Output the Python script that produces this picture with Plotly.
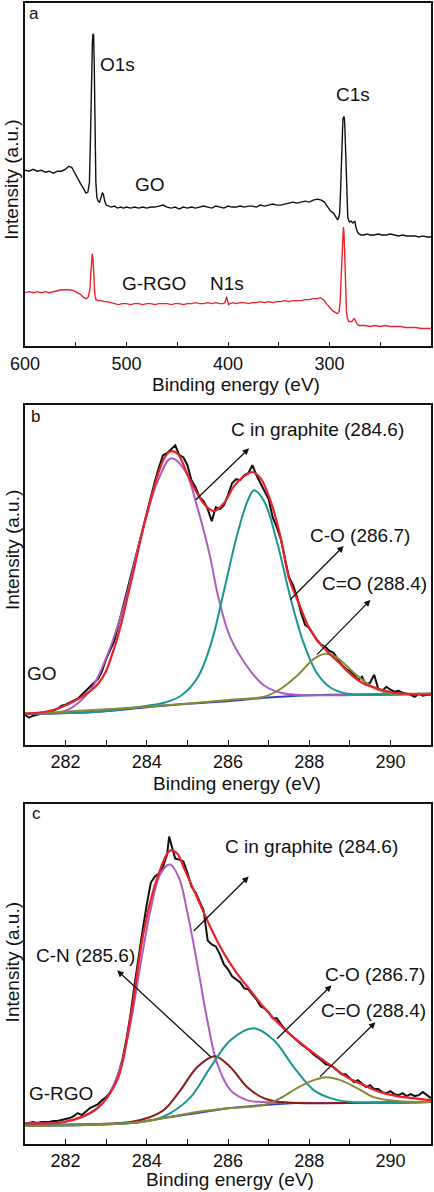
import plotly.graph_objects as go

FONT = "Liberation Sans, Arial, sans-serif"

# ---------------- Panel a : survey spectra ----------------
a_go_ev = [600,596,592,588,584,580,576,572,568,564,560,557,554,551,548,545,542,540,538,536.5,535.5,534.5,533.6,533,532.4,531.8,531,530.2,529.2,528,526.5,525,523.8,522.8,521.5,520,518,515,512,509,506,503,500,496,492,488,484,480,476,472,468,464,460,456,452,448,444,440,436,432,428,424,420,416,412,408,404,400,396,392,388,384,380,376,372,368,364,360,356,352,348,344,340,336,332,328,324,320,316,312,308,305,302,299,296,293.5,292,291,290,289.3,288.6,288,287.4,286.8,286.2,285.6,285,284.4,283.7,283,282,281,280,279,278,277,276,275,274,272.5,271,269,266,263,260,256,252,248,244,240,236,232,228,224,220,216,212,208,204,200]
a_go_int = [177,176,178,176,177,175,176,174,176,176,178,181,180,174,168,163,158,154,155,165,210,270,305,314,313,285,220,165,150,146,145,150,154,153,146,142,141,140,141,139,140,139,140,139,140,139,140,139,140,140,141,142,140,139,140,138,140,139,140,139,140,141,140,139,141,140,139,141,140,140,141,140,141,141,140,142,141,142,143,142,142,143,144,145,144,145,146,145,147,148,147,145,141,136,134,130,127,129,134,150,180,200,218,228,230,231,225,208,180,150,130,126,125,126,125,124,125,126,120,115,113,112,112,113,112,112,113,112,112,113,112,111,112,111,111,111,110,111,110,110]

a_rgo_ev = [600,596,592,588,584,580,576,572,568,564,560,556,552,548,545,542,539.5,537.5,536,535,534.3,533.7,533,532.2,531.2,530,528,525,522,519,516,512,508,504,500,496,492,488,484,480,476,472,468,464,460,456,452,448,444,440,436,432,428,424,420,416,412,408,405,403,402,401.3,400.5,399.5,398,395,392,388,384,380,376,372,368,364,360,356,352,348,344,340,336,332,328,324,320,316,312,309,306,303,300,297,294,292,290.5,289.5,288.5,287.6,286.9,286.3,285.7,285,284.2,283.3,282.3,281,279.5,278,276.5,275.5,274,272.5,271,268,265,260,255,250,245,240,235,230,225,220,215,210,205,200]
a_rgo_int = [54,55,54,55,54,55,54,55,56,57,57,57,56,54,52,49,48,50,58,75,88,93,88,70,52,47,46,46,45,45,44,43,42,43,43,42,43,43,42,43,43,42,43,43,43,42,43,43,42,43,43,44,43,43,44,43,44,43,43,44,47,50,46,42,43,44,43,44,44,43,44,44,45,44,45,44,45,45,46,45,46,46,46,47,47,48,48,49,47,43,39,36,34,33,35,45,70,100,117,120,115,90,55,35,28,25,25,25,27,28,25,22,21,21,21,20,21,20,21,20,20,20,19,19,19,18,18,18]

a_ticks = [600, 500, 400, 300]
a_minor = [550, 450, 350, 250]

# ---------------- Panel b : GO C1s ----------------
b_ev = [round(281 + 0.1 * i, 1) for i in range(101)]
b_data = [30,27,29,30,31,32,31,34,36,39,40,42,44,46,50,54,58,62,66,74,86,95,104,120,136,152,168,184,200,216,232,250,264,278,290,292,296,300,290,288,280,265,258,248,244,236,224,238,236,240,250,262,266,265,270,272,280,270,262,254,246,228,218,206,186,168,160,148,132,120,117,110,104,100,98,94,92,86,80,76,74,70,65,68,60,62,70,56,54,58,55,53,54,52,51,50,48,51,49,50,50]

b_env_ev = [281,281.8,282.8,283.2,283.6,284.0,284.43,284.6,284.77,285.0,285.25,285.46,285.66,285.9,286.15,286.4,286.6,286.8,287.05,287.3,287.5,287.75,288.0,288.25,288.5,288.74,288.98,289.3,289.7,290.1,291]
b_env = [31,36,61,97,161,231,287,294,291,271,251,239,234,242,259,269,273,267,244,207,167,141,117,102,91,82,72,62,56,52,50]

b_bg_ev = [281,282.8,284.4,286.1,286.9,287.7,288.5,291]
b_bg = [31,33,39,44,47,49,50,51]

b_gr_ev = [281,282,282.6,283.0,283.45,283.85,284.25,284.6,284.95,285.25,285.55,285.75,286.05,286.55,286.9,287.3,287.7,291]
b_gr = [31,34,54,87,141,207,262,287,274,237,190,150,108,74,59,52,50,51]

b_co_ev = [281,282.8,284.02,284.43,284.84,285.25,285.58,285.9,286.23,286.48,286.64,286.89,287.22,287.54,287.87,288.2,288.53,288.94,289.35,291]
b_co = [31,33,39,42,49,67,101,154,211,244,255,244,201,147,101,71,57,51,50,51]

b_cdo_ev = [281,283.61,285.25,286.07,286.89,287.3,287.7,288.12,288.4,288.69,289.1,289.51,289.92,290.57,291]
b_cdo = [31,37,42,45,48,56,69,86,91,87,72,59,52,51,51]

# ---------------- Panel c : G-RGO C1s ----------------
c_ev = [281.0,281.1,281.2,281.3,281.4,281.5,281.6,281.7,281.8,281.9,282.0,282.1,282.2,282.3,282.4,282.5,282.6,282.7,282.8,282.9,283.0,283.1,283.2,283.3,283.4,283.5,283.6,283.7,283.8,283.9,284.0,284.1,284.2,284.3,284.4,284.5,284.55,284.6,284.7,284.8,284.9,285.0,285.1,285.2,285.3,285.4,285.5,285.6,285.7,285.8,285.9,286.0,286.1,286.2,286.3,286.4,286.5,286.6,286.7,286.8,286.9,287.0,287.1,287.2,287.3,287.4,287.5,287.6,287.7,287.8,287.9,288.0,288.1,288.2,288.3,288.4,288.5,288.6,288.7,288.8,288.9,289.0,289.1,289.2,289.3,289.4,289.5,289.6,289.7,289.8,289.9,290.0,290.1,290.2,290.3,290.4,290.5,290.6,290.7,290.8,290.9,291.0]
c_data = [21,21,22,21,22,22,22,23,23,24,25,26,28,31,29,33,36,38,40,44,47,52,60,70,85,105,130,160,190,215,240,262,268,271,278,290,308,300,286,285,283,272,258,252,243,234,204,200,198,190,180,175,168,165,162,156,155,150,145,138,136,132,126,126,120,115,111,107,103,100,97,94,90,87,84,80,79,77,73,70,70,66,62,64,60,57,59,55,55,52,51,53,50,49,51,48,50,48,49,52,49,46]

c_env_ev = [281,281.96,282.78,283.27,283.6,283.93,284.26,284.58,284.75,284.91,285.24,285.57,285.9,286.22,286.55,286.88,287.29,287.7,288.11,288.52,288.93,289.34,289.75,290.16,291]
c_env = [21,22,36,64,127,214,267,294,291,277,247,217,191,171,154,137,119,104,91,79,67,59,52,48,44]

c_bg_ev = [281,283.6,284.42,285.24,286.06,286.88,287.7,288.52,291]
c_bg = [18,21,26,31,36,39,41,41,42]

c_gr_ev = [281,281.96,282.62,283.03,283.35,283.6,283.85,284.09,284.34,284.57,284.79,284.99,285.24,285.49,285.73,286.06,286.47,286.88,291]
c_gr = [21,22,31,47,77,121,181,234,271,280,267,234,181,124,81,54,44,42,42]

c_cn_ev = [281,282.78,283.6,284.01,284.42,284.83,285.24,285.67,286.06,286.47,286.88,287.29,287.7,291]
c_cn = [19,20,22,26,34,54,77,88,77,57,46,42,41,42]

c_co_ev = [281,283.6,284.17,284.58,285.08,285.57,286.06,286.63,287.13,287.62,288.11,288.52,289.01,291]
c_co = [19,21,24,31,47,77,104,116,104,77,54,46,42,42]

c_cdo_ev = [281,283.6,284.42,285.24,286.06,286.88,287.29,287.7,288.11,288.42,288.77,289.18,289.59,290.16,291]
c_cdo = [18,21,26,32,36,39,46,56,64,67,64,56,47,43,42]

# ---------------- colours ----------------
BLACK = "#111111"
RED = "#e8232a"
PURPLE = "#ad5fbf"
TEAL = "#1b9494"
OLIVE = "#8a8a35"
BROWN = "#8c1a1a"
BLUE = "#2f3fbf"

fig = go.Figure()

def line(x, y, color, width, xa, ya, spline=False):
    fig.add_trace(go.Scatter(x=x, y=y, mode="lines", xaxis=xa, yaxis=ya,
                             line=dict(color=color, width=width,
                                       shape="spline" if spline else "linear",
                                       smoothing=1.0),
                             showlegend=False, hoverinfo="skip"))

# panel a
line(a_go_ev, a_go_int, BLACK, 1.4, "x", "y")
line(a_rgo_ev, a_rgo_int, RED, 1.4, "x", "y")

# panel b
line(b_ev, b_data, BLACK, 2, "x2", "y2")
line(b_bg_ev, b_bg, BLUE, 2, "x2", "y2", True)
line(b_gr_ev, b_gr, PURPLE, 2, "x2", "y2", True)
line(b_co_ev, b_co, TEAL, 2, "x2", "y2", True)
line(b_cdo_ev, b_cdo, OLIVE, 2, "x2", "y2", True)
line(b_env_ev, b_env, RED, 2.2, "x2", "y2", True)

# panel c
line(c_ev, c_data, BLACK, 2, "x3", "y3")
line(c_bg_ev, c_bg, BLUE, 2, "x3", "y3", True)
line(c_gr_ev, c_gr, PURPLE, 2, "x3", "y3", True)
line(c_cn_ev, c_cn, BROWN, 2, "x3", "y3", True)
line(c_co_ev, c_co, TEAL, 2, "x3", "y3", True)
line(c_cdo_ev, c_cdo, OLIVE, 2, "x3", "y3", True)
line(c_env_ev, c_env, RED, 2.2, "x3", "y3", True)

TF = dict(family=FONT, size=18, color="#111")

def xax(domain_anchor, rng, tickvals, minorvals):
    return dict(range=rng, anchor=domain_anchor, showline=True, linecolor="#111",
                linewidth=1.5, mirror=True, ticks="inside", ticklen=5, tickwidth=1.2,
                tickcolor="#111", tickvals=tickvals, tickfont=TF, showgrid=False,
                zeroline=False,
                minor=dict(tickvals=minorvals, ticks="inside", ticklen=5,
                           tickwidth=1.2, tickcolor="#111", showgrid=False))

def yax(domain, anchor, rng):
    return dict(domain=domain, anchor=anchor, range=rng, showline=True,
                linecolor="#111", linewidth=1.5, mirror=True, ticks="",
                showticklabels=False, showgrid=False, zeroline=False)

fig.update_layout(
    width=434, height=1192,
    margin=dict(l=25, r=1, t=1, b=48),
    paper_bgcolor="white", plot_bgcolor="white",
    font=dict(family=FONT, size=18, color="#111"),
    xaxis=xax("y", [600, 200], a_ticks, a_minor),
    xaxis2=xax("y2", [281, 291], [282, 284, 286, 288, 290], [283, 285, 287, 289]),
    xaxis3=xax("y3", [281, 291], [282, 284, 286, 288, 290], [283, 285, 287, 289]),
    yaxis=yax([0.699, 1.0], "x", [0, 345]),
    yaxis2=yax([0.350, 0.648], "x2", [0, 340.7]),
    yaxis3=yax([0.0, 0.298], "x3", [0, 340.7]),
)

ann = []

def txt(text, x, y, xr, yr, size=19, xanchor="center"):
    ann.append(dict(text=text, x=x, y=y, xref=xr, yref=yr, showarrow=False,
                    xanchor=xanchor, yanchor="middle", font=dict(family=FONT, size=size, color="#111")))

def arrow(x0, y0, x1, y1, xr, yr):
    ann.append(dict(text="", x=x1, y=y1, ax=x0, ay=y0, xref=xr, yref=yr,
                    axref=xr, ayref=yr, showarrow=True, arrowhead=2,
                    arrowsize=1, arrowwidth=1.3, arrowcolor="#111"))

# panel labels
txt("a", 0.022, 0.968, "x domain", "y domain", 17)
txt("b", 0.027, 0.965, "x2 domain", "y2 domain", 17)
txt("c", 0.029, 0.971, "x3 domain", "y3 domain", 17)

# panel a texts
txt("O1s", 508.5, 283, "x", "y")
txt("GO", 476.8, 163, "x", "y")
txt("C1s", 276.5, 253, "x", "y")
txt("G-RGO", 472.5, 63, "x", "y")
txt("N1s", 400.7, 63, "x", "y")

# panel b texts + arrows
txt("C in graphite (284.6)", 288.2, 316, "x2", "y2")
arrow(285.17, 244, 286.52, 297, "x2", "y2")
txt("C-O (286.7)", 289.24, 210, "x2", "y2")
arrow(287.5, 144, 288.85, 199, "x2", "y2")
txt("C=O (288.4)", 289.6, 161, "x2", "y2")
arrow(288.16, 89, 289.51, 145, "x2", "y2")
txt("GO", 281.42, 71, "x2", "y2")

# panel c texts + arrows
txt("C in graphite (284.6)", 288.05, 298, "x3", "y3")
arrow(285.12, 212, 286.51, 268, "x3", "y3")
txt("C-N (285.6)", 282.49, 189, "x3", "y3")
arrow(285.61, 86, 283.27, 174, "x3", "y3")
txt("C-O (286.7)", 289.63, 170, "x3", "y3")
arrow(287.17, 104, 288.55, 159, "x3", "y3")
txt("C=O (288.4)", 289.59, 134, "x3", "y3")
arrow(288.23, 66, 289.63, 122, "x3", "y3")
txt("G-RGO", 281.88, 51, "x3", "y3")

# axis titles (x centre in px -> paper, y centre in px -> paper)
for xp, yp in [(237, 383), (238, 783), (231, 1180)]:
    txt("Binding energy (eV)", (xp - 25) / 408, (1144 - yp) / 1143, "paper", "paper")
for yp in [178, 549, 962]:
    ann.append(dict(text="Intensity (a.u.)", x=-13 / 408, y=(1144 - yp) / 1143,
                    xref="paper", yref="paper",
                    showarrow=False, textangle=-90, xanchor="center", yanchor="middle",
                    font=dict(family=FONT, size=19, color="#111")))

fig.update_layout(annotations=ann)
fig.write_html("out.html", config={"displayModeBar": False},
               post_script="document.body.style.margin='0px';document.body.style.padding='0px';")
